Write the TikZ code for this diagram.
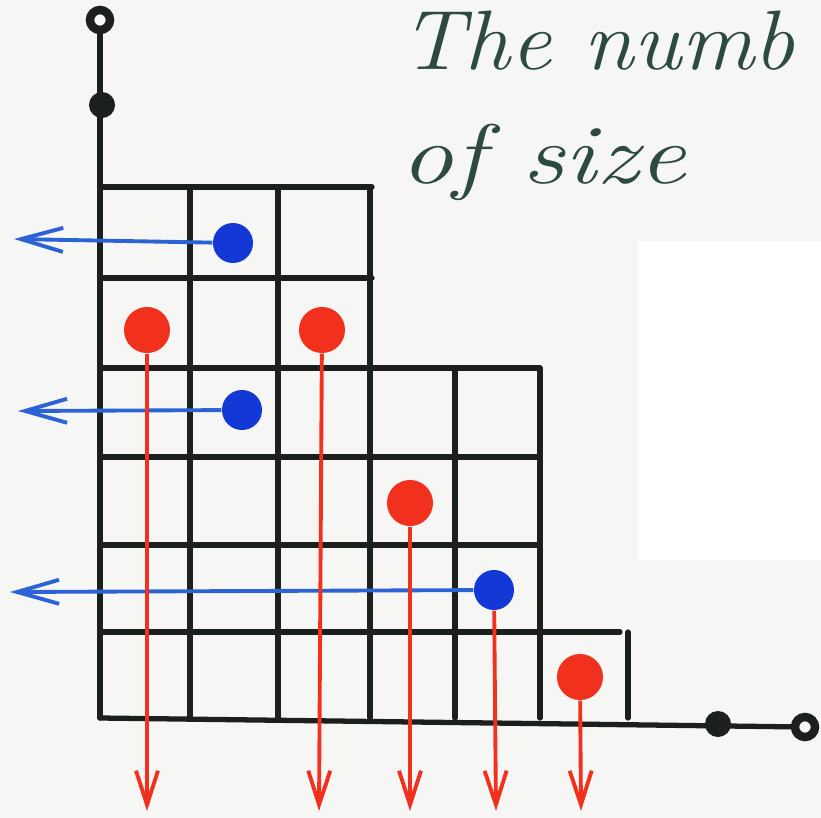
\documentclass[tikz,border=0pt]{standalone}
\usepackage{tikz}
\usetikzlibrary{arrows.meta}
\definecolor{ink}{HTML}{1B1F1D}
\definecolor{pen}{HTML}{2D4A42}
\definecolor{bluedot}{HTML}{1438D6}
\definecolor{blueline}{HTML}{2B63D4}
\definecolor{reddot}{HTML}{F2301E}
\definecolor{paper}{HTML}{F6F6F4}

\begin{document}
\begin{tikzpicture}[
  x=0.01cm, y=-0.01cm,
  grid/.style={line width=1.5pt,ink,line cap=round},
  bdot/.style={circle,fill=bluedot,inner sep=0pt,minimum size=0.4cm},
  rdot/.style={circle,fill=reddot,inner sep=0pt,minimum size=0.46cm},
  axdot/.style={circle,fill=ink,inner sep=0pt,minimum size=0.26cm},
  hdot/.style={circle,draw=ink,fill=paper,line width=2.4pt,inner sep=0pt,minimum size=0.2cm},
  barr/.style={-{Straight Barb[length=0.42cm,width=0.24cm]},line width=1.1pt,blueline},
  rarr/.style={-{Straight Barb[length=0.34cm,width=0.22cm]},line width=1.1pt,reddot},
  hand/.style={pen,font=\fontsize{24}{28}\selectfont\itshape,anchor=base west,inner sep=0pt}
]
  \fill[paper] (0,0) rectangle (821,818);
  \useasboundingbox (0,0) rectangle (821,818);
  \fill[white] (638,241) rectangle (821,560);

  % the handwritten heading
  \node[hand,xscale=1.08] (head) at (400,70) {The numb};
  \node[hand,xscale=1.25] (size) at (400,183) {of size};

  % axes
  \coordinate (o) at (100,718);
  \node[hdot] (ytop) at (100,20) {};
  \node[axdot] (y1) at (102,105) {};
  \node[axdot] (x1) at (718,724) {};
  \node[hdot] (xend) at (805,727) {};
  \draw[grid] (o) -- (ytop);
  \draw[grid] (o) -- (xend);

  % cells of the diagram
  \foreach \gx/\gy in {190/187,278/187,370/187,455/368,540/368,628/632}
    \draw[grid] (\gx,\gy) -- (\gx,718);
  \foreach \gy/\gx in {187/372,278/372,368/540,457/537,545/537,632/620}
    \draw[grid] (100,\gy) -- (\gx,\gy);

  % dots
  \node[bdot] (b1) at (233,243) {};
  \node[bdot] (b2) at (242,410) {};
  \node[bdot] (b3) at (494,590) {};
  \node[rdot] (r1) at (147,330) {};
  \node[rdot] (r2) at (322,330) {};
  \node[rdot] (r3) at (410,503) {};
  \node[rdot] (r4) at (580,677) {};

  % arrow ends
  \coordinate (bl1) at (14,239);
  \coordinate (bl2) at (18,411);
  \coordinate (bl3) at (10,592);
  \coordinate (rd1) at (147,811);
  \coordinate (rd2) at (319,811);
  \coordinate (rd3) at (410,811);
  \coordinate (rd4) at (496,811);
  \coordinate (rd5) at (581,811);

  \draw[barr] (b1) -- (bl1);
  \draw[barr] (b2) -- (bl2);
  \draw[barr] (b3) -- (bl3);
  \draw[rarr] (r1) -- (rd1);
  \draw[rarr] (r2) -- (rd2);
  \draw[rarr] (r3) -- (rd3);
  \draw[rarr] (b3) -- (rd4);
  \draw[rarr] (r4) -- (rd5);
\end{tikzpicture}
\end{document}
